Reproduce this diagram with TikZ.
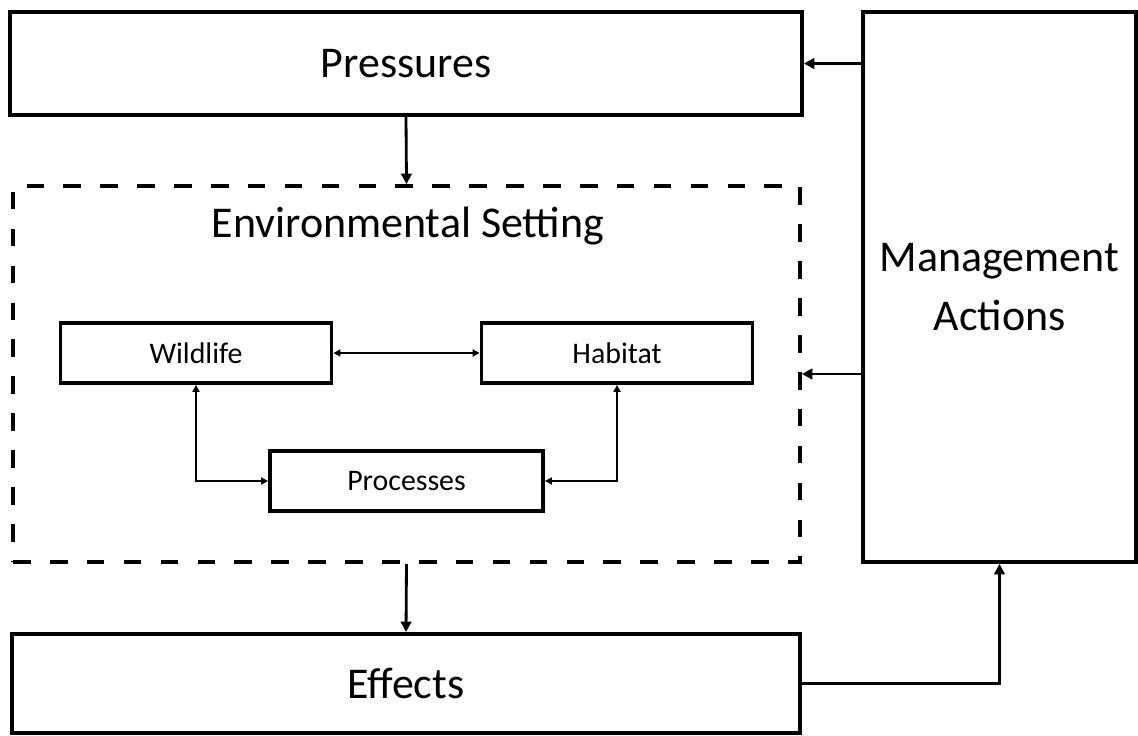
\documentclass[tikz,border=0pt]{standalone}
\usepackage{fontspec}
\setmainfont{Carlito}
\usetikzlibrary{arrows.meta}

\begin{document}
\begin{tikzpicture}[x=0.02cm, y=-0.02cm,
    bigbox/.style={draw, line width=2.2pt, font=\fontsize{25}{33.5}\selectfont},
    smallbox/.style={draw, line width=2.2pt, minimum width=5.42cm, minimum height=1.2cm,
      font=\fontsize{17}{20}\selectfont},
    bigarrow/.style={line width=1.6pt, -{Triangle[length=6pt, width=6pt]}},
    smallarrow/.style={line width=1pt, {Triangle[length=4pt, width=4pt]}-{Triangle[length=4pt, width=4pt]}}]
        \useasboundingbox (0,0) rectangle (1138,736);

        \node (pressures) at (406,63.5) [bigbox, minimum width=15.84cm, minimum height=2.06cm] {Pressures};
        \node (mgmt) at (999.5,287) [bigbox, minimum width=5.46cm, minimum height=11cm, align=center] {Management\\Actions};
        \node (env) at (406.5,374) [draw, line width=2.2pt, dash pattern=on 10pt off 11pt,
          minimum width=15.74cm, minimum height=7.52cm] {};
        \node (envlabel) at (408,226) [font=\fontsize{25}{30}\selectfont] {Environmental Setting};
        \node (effects) at (406,683.5) [bigbox, minimum width=15.76cm, minimum height=1.98cm] {Effects};

        \node (wildlife) at (196,353) [smallbox] {Wildlife};
        \node (habitat) at (617,353) [smallbox] {Habitat};
        \node (processes) at (406.5,481) [smallbox, minimum width=5.46cm] {Processes};

        \draw[bigarrow] (mgmt.west |- pressures.east) -- (pressures.east);
        \draw[bigarrow] (mgmt.west |- env.east) -- (env.east);
        \draw[bigarrow] (pressures.south) -- (env.north);
        \draw[bigarrow] (env.south) -- (effects.north);
        \draw[bigarrow] (effects.east) -| (mgmt.south);

        \draw[smallarrow] (wildlife) -- (habitat);
        \draw[smallarrow] (wildlife.south) |- (processes.west);
        \draw[smallarrow] (habitat.south) |- (processes.east);
      \end{tikzpicture}
\end{document}
